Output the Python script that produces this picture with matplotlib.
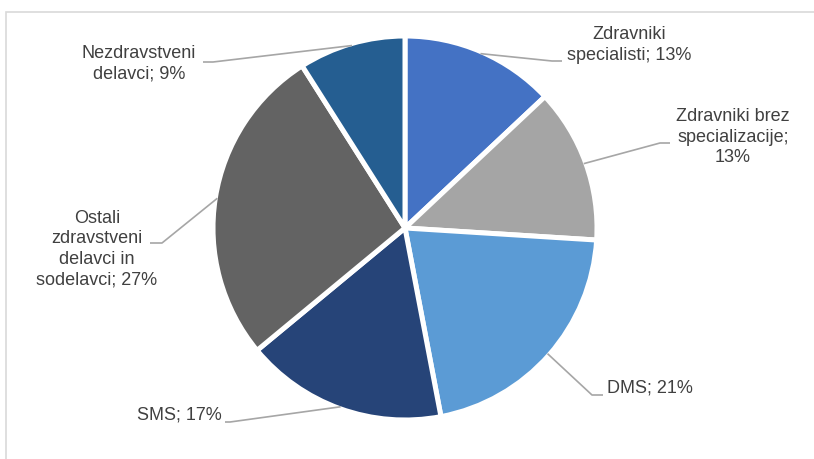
import matplotlib
matplotlib.use("Agg")
import numpy as np
import matplotlib.pyplot as plt
from matplotlib.patches import Rectangle

# data
categories = ["Zdravniki specialisti", "Zdravniki brez specializacije", "DMS", "SMS",
              "Ostali zdravstveni delavci in sodelavci", "Nezdravstveni delavci"]
label_lines = ["Zdravniki\nspecialisti", "Zdravniki brez\nspecializacije;\n", "DMS", "SMS",
               "Ostali\nzdravstveni\ndelavci in\nsodelavci", "Nezdravstveni\ndelavci"]
shares = [13, 13, 21, 17, 27, 9]
colors = ["#4472C4", "#A5A5A5", "#5B9BD5", "#264478", "#636363", "#255E91"]

W, H = 814, 459
plt.rcParams["font.family"] = ["Liberation Sans", "DejaVu Sans"]

fig = plt.figure(figsize=(W / 100, H / 100), dpi=100)
ax = fig.add_axes([0, 0, 1, 1])

# chart area border (cut at top/right like the source)
fig.patches.append(Rectangle((6 / W, -0.1), 1.2, (H - 12) / H + 0.1, transform=fig.transFigure,
                             fill=False, edgecolor="#D9D9D9", linewidth=1.2))

cx, cy, r = 405, H - 228, 192
wedges, _ = ax.pie(shares, colors=colors, startangle=90, counterclock=False,
                   center=(cx, cy), radius=r, frame=True,
                   wedgeprops=dict(edgecolor="white", linewidth=3.6))
ax.set_xlim(0, W)
ax.set_ylim(0, H)
ax.set_aspect("equal")
ax.axis("off")

# label layout: text centre, leader corner, leader end (pixel coords, y from top)
layout = [
    dict(text=(629, 45), corner=(552, 61), end=(562, 61), ha="center"),
    dict(text=(733, 137), corner=(660, 143), end=(670, 143), ha="center"),
    dict(text=(607, 388), corner=(592, 395), end=(603, 395), ha="left"),
    dict(text=(222, 415), corner=(230, 422), end=(225, 422), ha="right"),
    dict(text=(97, 249), corner=(162, 243), end=(150, 243), ha="center"),
    dict(text=(139, 64), corner=(213, 62), end=(203, 62), ha="center"),
]

r_vis = r - 2
for w, name, share, lay in zip(wedges, label_lines, shares, layout):
    mid = np.deg2rad((w.theta1 + w.theta2) / 2)
    sx, sy = cx + r_vis * np.cos(mid), cy + r_vis * np.sin(mid)
    (kx, ky), (ex, ey) = lay["corner"], lay["end"]
    ax.plot([sx, kx, ex], [sy, H - ky, H - ey], color="#A6A6A6", linewidth=1.2,
            solid_capstyle="butt")
    sep = "" if name.endswith("\n") else "; "
    tx, ty = lay["text"]
    ax.text(tx, H - ty, f"{name}{sep}{share}%", ha=lay["ha"], va="center",
            multialignment="center", fontsize=13, color="#404040", linespacing=1.28)

fig.savefig("out.png", dpi=100)
